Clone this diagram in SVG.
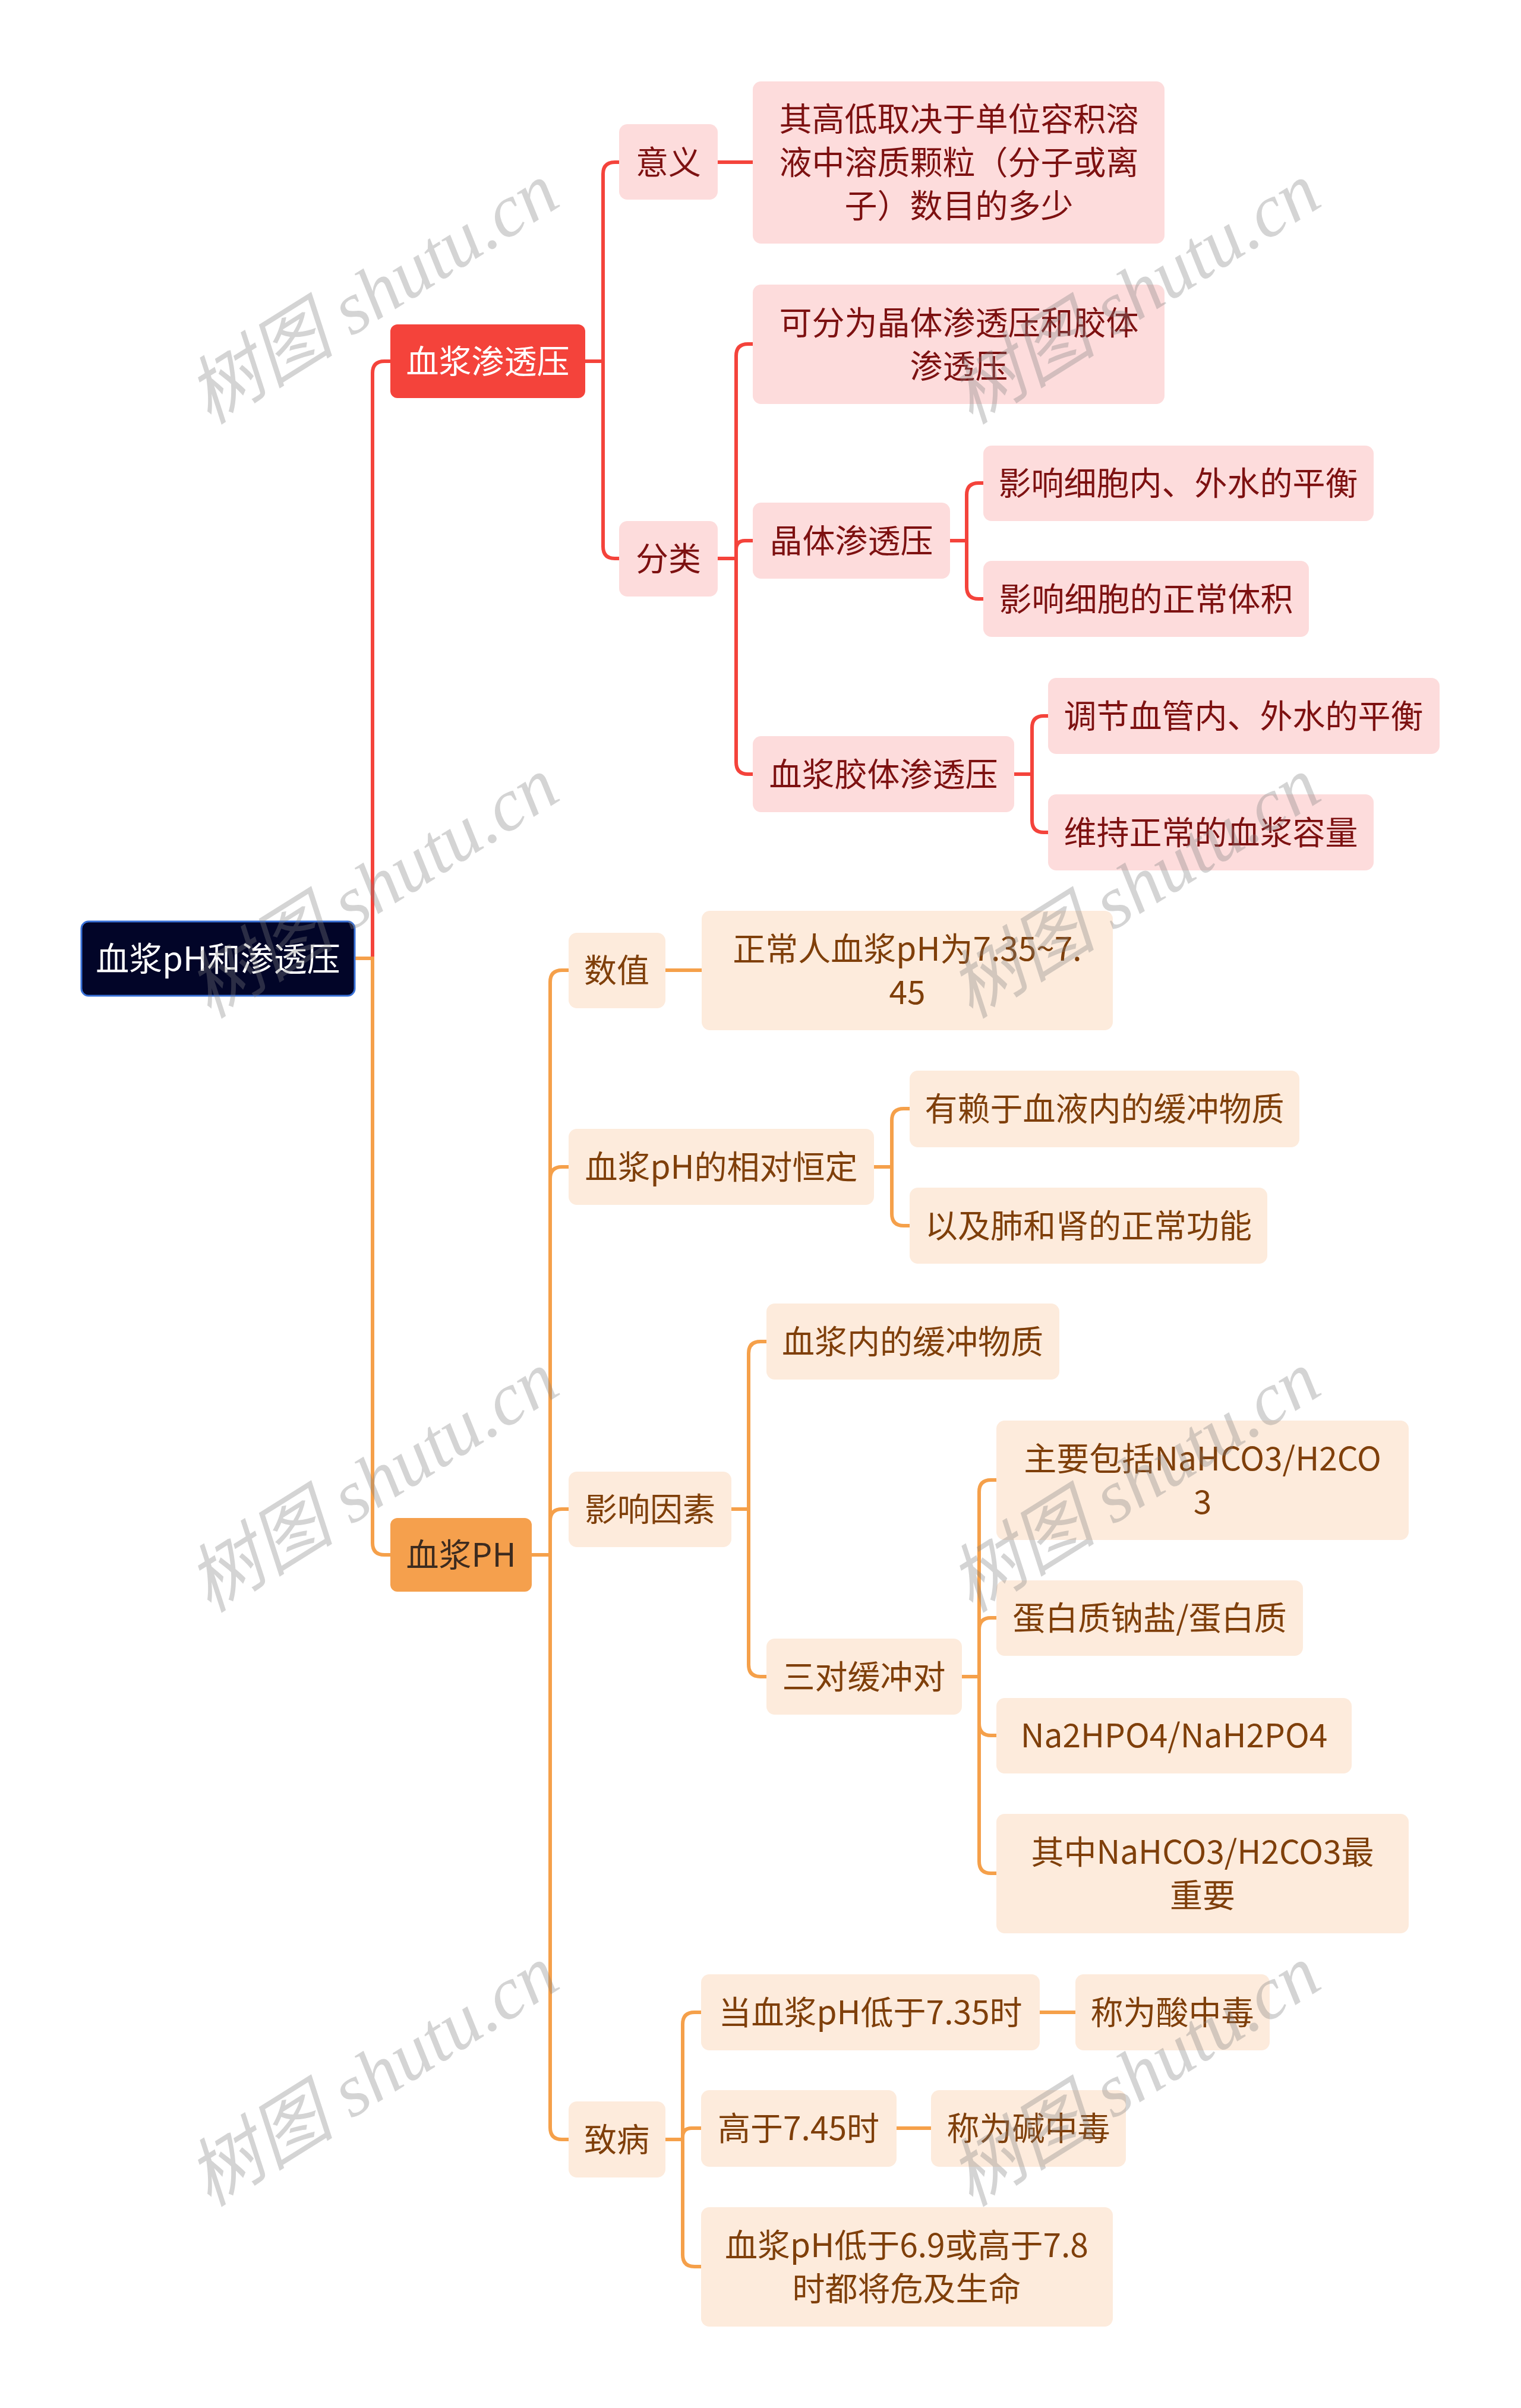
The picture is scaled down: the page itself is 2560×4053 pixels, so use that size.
<svg xmlns="http://www.w3.org/2000/svg" width="2560" height="4053" viewBox="0 0 2560 4053">
<style>
text{font-family:"Noto Sans CJK SC","Noto Sans",sans-serif;text-anchor:middle}
.t{font-size:55px}
.rl rect{fill:#FDDCDC}
.rl text{fill:#7D1111}
.ol rect{fill:#FDEBDC}
.ol text{fill:#7F3F0A}
.cr{fill:none;stroke:#F4433B;stroke-width:6}
.co{fill:none;stroke:#F5A04A;stroke-width:6}
.wm{font-family:"Liberation Serif","Noto Sans CJK SC",serif;font-style:italic;font-size:125px;fill:#808080;opacity:0.33}
</style>
<rect width="2560" height="4053" fill="#ffffff"/>
<g id="connectors">
<path class="cr" d="M627,1613 V628 Q627,608 647,608 H657"/>
<path class="cr" d="M985,608 H1015 V293 Q1015,273 1035,273 H1042"/>
<path class="cr" d="M985,608 H1015 V920 Q1015,940 1035,940 H1042"/>
<path class="cr" d="M1208,273 H1267"/>
<path class="cr" d="M1208,940 H1239 V599 Q1239,579 1259,579 H1267"/>
<path class="cr" d="M1208,940 H1239 V925 Q1239,910 1254,910 H1267"/>
<path class="cr" d="M1208,940 H1239 V1283 Q1239,1303 1259,1303 H1267"/>
<path class="cr" d="M1599,910 H1627 V833 Q1627,813 1647,813 H1655"/>
<path class="cr" d="M1599,910 H1627 V988 Q1627,1008 1647,1008 H1655"/>
<path class="cr" d="M1707,1303 H1737 V1225 Q1737,1205 1757,1205 H1764"/>
<path class="cr" d="M1707,1303 H1737 V1381 Q1737,1401 1757,1401 H1764"/>
<path class="co" d="M597,1613 H627 V2597 Q627,2617 647,2617 H657"/>
<path class="co" d="M895,2617 H926 V1653 Q926,1633 946,1633 H957"/>
<path class="co" d="M895,2617 H926 V1984 Q926,1964 946,1964 H957"/>
<path class="co" d="M895,2617 H926 V2560 Q926,2540 946,2540 H957"/>
<path class="co" d="M895,2617 H926 V3581 Q926,3601 946,3601 H957"/>
<path class="co" d="M1120,1633 H1181"/>
<path class="co" d="M1471,1964 H1501 V1886 Q1501,1866 1521,1866 H1531"/>
<path class="co" d="M1471,1964 H1501 V2043 Q1501,2063 1521,2063 H1531"/>
<path class="co" d="M1231,2540 H1260 V2278 Q1260,2258 1280,2258 H1290"/>
<path class="co" d="M1231,2540 H1260 V2802 Q1260,2822 1280,2822 H1290"/>
<path class="co" d="M1619,2822 H1648 V2511 Q1648,2491 1668,2491 H1677"/>
<path class="co" d="M1619,2822 H1648 V2743 Q1648,2723 1668,2723 H1677"/>
<path class="co" d="M1619,2822 H1648 V2901 Q1648,2921 1668,2921 H1677"/>
<path class="co" d="M1619,2822 H1648 V3133 Q1648,3153 1668,3153 H1677"/>
<path class="co" d="M1120,3601 H1149 V3407 Q1149,3387 1169,3387 H1180"/>
<path class="co" d="M1120,3601 H1149 V3597 Q1149,3582 1164,3582 H1180"/>
<path class="co" d="M1120,3601 H1149 V3795 Q1149,3815 1169,3815 H1180"/>
<path class="co" d="M1750,3387 H1810"/>
<path class="co" d="M1509,3582 H1567"/>
</g>
<g id="root">
<rect x="137" y="1551" width="460" height="125" rx="12" fill="#020528" stroke="#3A72D8" stroke-width="3"/>
<text x="367" y="1634" font-size="56" fill="#ffffff">血浆pH和渗透压</text>
</g>
<g id="n-xjstyy">
<rect x="657" y="546" width="328" height="124" rx="12" fill="#F4433B"/>
<text class="t" x="821" y="628" fill="#ffffff">血浆渗透压</text>
</g>
<g id="n-xjph">
<rect x="657" y="2555" width="238" height="124" rx="12" fill="#F5A04D"/>
<text class="t" x="776" y="2637" fill="#3D2B1F">血浆PH</text>
</g>
<g class="rl">
<g id="n-yiyi"><rect x="1042" y="209" width="166" height="127" rx="14"/><text class="t" x="1125" y="293">意义</text></g>
<g id="n-fenlei"><rect x="1042" y="877" width="166" height="127" rx="14"/><text class="t" x="1125" y="960">分类</text></g>
<g id="n-qigaodi"><rect x="1267" y="137" width="693" height="273" rx="14"/>
<text class="t" x="1614" y="220">其高低取决于单位容积溶</text>
<text class="t" x="1614" y="293">液中溶质颗粒（分子或离</text>
<text class="t" x="1614" y="366">子）数目的多少</text></g>
<g id="n-kefen"><rect x="1267" y="479" width="693" height="201" rx="14"/>
<text class="t" x="1614" y="563">可分为晶体渗透压和胶体</text>
<text class="t" x="1614" y="636">渗透压</text></g>
<g id="n-jingti"><rect x="1267" y="846" width="332" height="128" rx="14"/><text class="t" x="1433" y="930">晶体渗透压</text></g>
<g id="n-jiaoti"><rect x="1267" y="1239" width="440" height="128" rx="14"/><text class="t" x="1487" y="1323">血浆胶体渗透压</text></g>
<g id="n-yx1"><rect x="1655" y="750" width="657" height="127" rx="14"/><text class="t" x="1983" y="833">影响细胞内、外水的平衡</text></g>
<g id="n-yx2"><rect x="1655" y="944" width="548" height="128" rx="14"/><text class="t" x="1929" y="1028">影响细胞的正常体积</text></g>
<g id="n-tj"><rect x="1764" y="1141" width="659" height="128" rx="14"/><text class="t" x="2093" y="1225">调节血管内、外水的平衡</text></g>
<g id="n-wc"><rect x="1764" y="1337" width="548" height="128" rx="14"/><text class="t" x="2038" y="1421">维持正常的血浆容量</text></g>
</g>
<g class="ol">
<g id="n-shuzhi"><rect x="957" y="1570" width="163" height="127" rx="14"/><text class="t" x="1038" y="1653">数值</text></g>
<g id="n-zcr"><rect x="1181" y="1533" width="692" height="201" rx="14"/>
<text class="t" x="1527" y="1617">正常人血浆pH为7.35~7.</text>
<text class="t" x="1527" y="1690">45</text></g>
<g id="n-hd"><rect x="957" y="1900" width="514" height="128" rx="14"/><text class="t" x="1214" y="1984">血浆pH的相对恒定</text></g>
<g id="n-ylyu"><rect x="1531" y="1802" width="656" height="129" rx="14"/><text class="t" x="1859" y="1886">有赖于血液内的缓冲物质</text></g>
<g id="n-yiji"><rect x="1531" y="1999" width="602" height="128" rx="14"/><text class="t" x="1832" y="2083">以及肺和肾的正常功能</text></g>
<g id="n-yxys"><rect x="957" y="2477" width="274" height="127" rx="14"/><text class="t" x="1094" y="2560">影响因素</text></g>
<g id="n-xjn"><rect x="1290" y="2194" width="493" height="128" rx="14"/><text class="t" x="1536" y="2278">血浆内的缓冲物质</text></g>
<g id="n-sd"><rect x="1290" y="2758" width="329" height="128" rx="14"/><text class="t" x="1454" y="2842">三对缓冲对</text></g>
<g id="n-zy"><rect x="1677" y="2391" width="694" height="201" rx="14"/>
<text class="t" x="2024" y="2475">主要包括NaHCO3/H2CO</text>
<text class="t" x="2024" y="2548">3</text></g>
<g id="n-db"><rect x="1677" y="2660" width="516" height="127" rx="14"/><text class="t" x="1935" y="2743">蛋白质钠盐/蛋白质</text></g>
<g id="n-na"><rect x="1677" y="2858" width="598" height="127" rx="14"/><text class="t" x="1976" y="2941">Na2HPO4/NaH2PO4</text></g>
<g id="n-qz"><rect x="1677" y="3053" width="694" height="201" rx="14"/>
<text class="t" x="2024" y="3137">其中NaHCO3/H2CO3最</text>
<text class="t" x="2024" y="3210">重要</text></g>
<g id="n-zb"><rect x="957" y="3537" width="163" height="128" rx="14"/><text class="t" x="1038" y="3621">致病</text></g>
<g id="n-d1"><rect x="1180" y="3323" width="570" height="128" rx="14"/><text class="t" x="1465" y="3407">当血浆pH低于7.35时</text></g>
<g id="n-d2"><rect x="1810" y="3323" width="327" height="128" rx="14"/><text class="t" x="1973" y="3407">称为酸中毒</text></g>
<g id="n-g1"><rect x="1180" y="3518" width="329" height="129" rx="14"/><text class="t" x="1344" y="3602">高于7.45时</text></g>
<g id="n-g2"><rect x="1567" y="3518" width="328" height="129" rx="14"/><text class="t" x="1731" y="3602">称为碱中毒</text></g>
<g id="n-wx"><rect x="1180" y="3715" width="693" height="201" rx="14"/>
<text class="t" x="1526" y="3799">血浆pH低于6.9或高于7.8</text>
<text class="t" x="1526" y="3872">时都将危及生命</text></g>
</g>
<g id="watermarks">
<text class="wm" transform="translate(650,530) rotate(-32)">树图 shutu.cn</text>
<text class="wm" transform="translate(1932,530) rotate(-32)">树图 shutu.cn</text>
<text class="wm" transform="translate(650,1530) rotate(-32)">树图 shutu.cn</text>
<text class="wm" transform="translate(1932,1530) rotate(-32)">树图 shutu.cn</text>
<text class="wm" transform="translate(650,2530) rotate(-32)">树图 shutu.cn</text>
<text class="wm" transform="translate(1932,2530) rotate(-32)">树图 shutu.cn</text>
<text class="wm" transform="translate(650,3530) rotate(-32)">树图 shutu.cn</text>
<text class="wm" transform="translate(1932,3530) rotate(-32)">树图 shutu.cn</text>
</g>
</svg>
